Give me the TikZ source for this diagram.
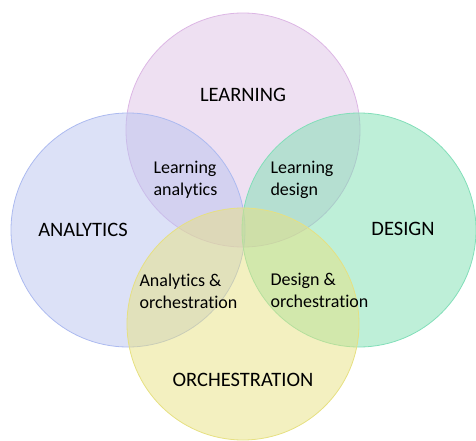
\documentclass[tikz,border=0pt]{standalone}
\usepackage{fontspec}
\setmainfont{Carlito}[Ligatures=NoCommon]
\usepackage{tikz}
\definecolor{learncol}{RGB}{221,193,229}
\definecolor{analycol}{RGB}{185,195,239}
\definecolor{designcol}{RGB}{125,223,177}
\definecolor{orchcol}{RGB}{231,225,129}
\definecolor{learnline}{RGB}{220,182,228}
\definecolor{analyline}{RGB}{172,186,240}
\definecolor{designline}{RGB}{130,222,185}
\definecolor{orchline}{RGB}{230,224,130}

\begin{document}
\begin{tikzpicture}[x=1pt, y=-1pt]
		%%%%% START %%%%%
		
		\useasboundingbox (0, 0) rectangle (476, 441);
		
		\draw[line width=0.8pt, draw=learnline, fill=learncol, fill opacity=0.5] (243, 130) circle (117);
		\draw[line width=0.8pt, draw=analyline, fill=analycol, fill opacity=0.5] (128, 230) circle (117);
		\draw[line width=0.8pt, draw=designline, fill=designcol, fill opacity=0.5] (359, 230) circle (117);
		\draw[line width=0.8pt, draw=orchline, fill=orchcol, fill opacity=0.5] (243, 324) circle (116);
		
		\node[font=\fontsize{20.5}{24}\selectfont] (learning) at (243, 95) {LEARNING};
		\node[font=\fontsize{20.5}{24}\selectfont] (analytics) at (83, 230) {ANALYTICS};
		\node[font=\fontsize{20.5}{24}\selectfont] (design) at (403, 229) {DESIGN};
		\node[font=\fontsize{20.5}{24}\selectfont] (orchestration) at (243, 380) {ORCHESTRATION};
		
		\node[font=\fontsize{18}{22}\selectfont, align=left, anchor=west] (learnanaly) at (150, 180) {Learning\\analytics};
		\node[font=\fontsize{18}{22}\selectfont, align=left, anchor=west] (learndesign) at (267, 180) {Learning\\design};
		\node[font=\fontsize{18}{22}\selectfont, align=left, anchor=west] (analyorch) at (136, 291) {Analytics \&\\orchestration};
		\node[font=\fontsize{18}{22}\selectfont, align=left, anchor=west] (designorch) at (267, 290) {Design \&\\orchestration};
		
		%%%%% END %%%%%
	\end{tikzpicture}
\end{document}
